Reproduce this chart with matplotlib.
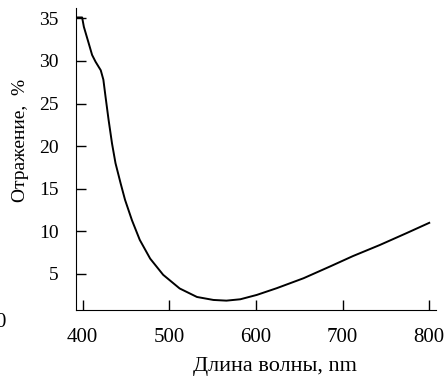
import matplotlib
matplotlib.use('Agg')
import matplotlib.pyplot as plt

plt.rcParams['font.family'] = ['Liberation Serif', 'DejaVu Serif']

# спектр отражения
wavelength = [392, 399.5, 401.5, 407, 411, 415, 421, 424, 426.5, 430, 434, 438, 444, 449,
              457, 466, 478, 493, 512, 532, 551, 566, 582, 601, 624, 655, 686, 712, 743, 774, 800]
reflection = [35.1, 35.1, 34.0, 32.1, 30.7, 29.9, 28.9, 27.8, 25.8, 23.1, 20.3, 18.0, 15.6, 13.7,
              11.3, 9.0, 6.8, 4.9, 3.3, 2.3, 1.95, 1.87, 2.03, 2.54, 3.33, 4.5, 5.9, 7.1, 8.4, 9.8, 11.0]
xticks = [400, 500, 600, 700, 800]
yticks = [5, 10, 15, 20, 25, 30, 35]

fig = plt.figure(figsize=(4.47, 3.76), dpi=100)
ax = fig.add_axes([0.169, 0.1755, 0.806, 0.803])

ax.plot(wavelength, reflection, color='black', linewidth=1.4)

ax.set_xlim(391.9, 807.6)
ax.set_ylim(0.77, 36.2)
ax.set_xticks(xticks)
ax.set_yticks(yticks)
ax.spines['top'].set_visible(False)
ax.spines['right'].set_visible(False)
ax.tick_params(direction='in', length=7, width=1)
ax.tick_params(axis='x', pad=13, labelsize=15)
ax.tick_params(axis='y', pad=12, labelsize=14)

ax.set_xlabel('Длина волны, nm', fontsize=16)
ax.xaxis.set_label_coords(0.553, -0.155)
ax.set_ylabel('Отражение,  %', fontsize=14)
ax.yaxis.set_label_coords(-0.13, 0.56)

# обрезанная подпись соседнего графика
fig.text(0.0, 0.142, '0', fontsize=15, ha='center', va='center')

fig.savefig('out.png', dpi=100)
